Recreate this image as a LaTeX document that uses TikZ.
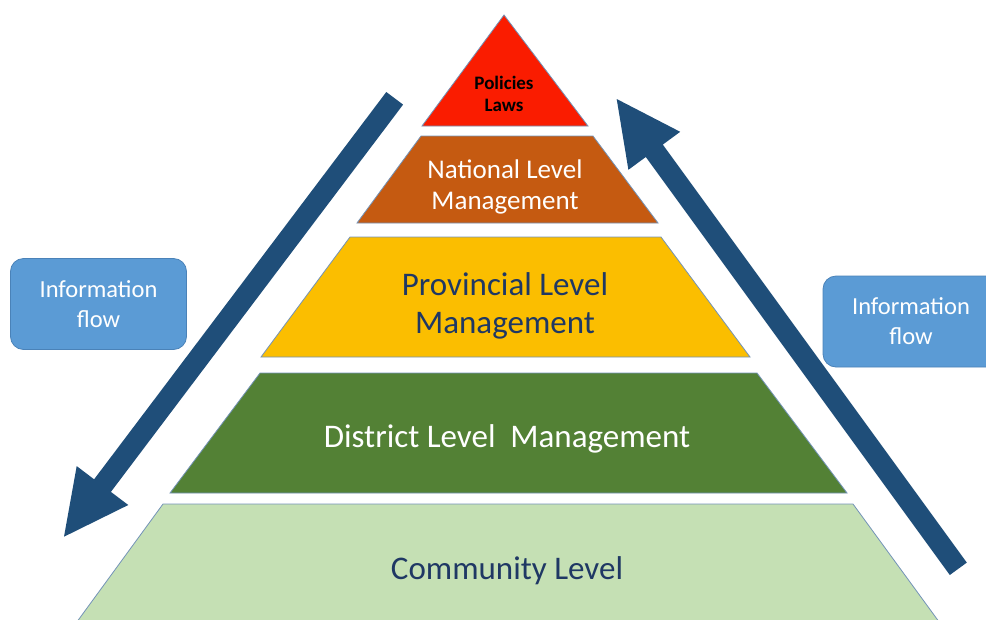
\documentclass[tikz,border=0pt]{standalone}
\usepackage{fontspec}
\setmainfont{Carlito}
\definecolor{edgeblue}{HTML}{7393B8}
\definecolor{topred}{HTML}{FA1C00}
\definecolor{natorange}{HTML}{C55A11}
\definecolor{provgold}{HTML}{FBBE00}
\definecolor{distgreen}{HTML}{538135}
\definecolor{commgreen}{HTML}{C5E0B4}
\definecolor{arrowblue}{HTML}{1F4E79}
\definecolor{boxblue}{HTML}{5B9BD5}
\definecolor{boxedge}{HTML}{4A82B8}
\definecolor{navytext}{HTML}{1F3864}
\begin{document}
\begin{tikzpicture}[x=1pt,y=-1pt,
  layer/.style={draw=edgeblue,line width=0.8pt},
  flowarrow/.style={fill=arrowblue},
  infobox/.style={rounded corners=13pt, fill=boxblue, draw=boxedge, line width=0.8pt,
    minimum width=176pt, minimum height=91pt, text=white, align=center,
    font=\fontsize{24.5}{30}\selectfont, inner sep=0pt},
  lbl/.style={align=center, inner sep=0pt}]
\useasboundingbox (0,0) rectangle (986,619);
\clip (0,0) rectangle (986,619);
% pyramid layers
\path[layer,fill=topred] (504,15) -- (588,126) -- (422,126) -- cycle;
\path[layer,fill=natorange] (421,136) -- (593,136) -- (658,223) -- (357,223) -- cycle;
\path[layer,fill=provgold] (350,237) -- (661,237) -- (750,357) -- (261,357) -- cycle;
\path[layer,fill=distgreen] (260,373) -- (757,373) -- (847,493) -- (170,493) -- cycle;
\path[layer,fill=commgreen] (163,504) -- (853,504) -- (945,630) -- (71,630) -- cycle;
% labels
\node[lbl,font=\bfseries\fontsize{19}{22.5}\selectfont] (pol) at (504,94) {Policies\\Laws};
\node[lbl,text=white,font=\fontsize{27}{31}\selectfont] (nat) at (505,187) {National Level\\Management};
\node[lbl,text=navytext,font=\fontsize{33}{38}\selectfont] (prov) at (505,306) {Provincial Level\\Management};
\node[lbl,text=white,font=\fontsize{33}{38}\selectfont] (dist) at (507,439) {District Level\ \ Management};
\node[lbl,text=navytext,font=\fontsize{33}{38}\selectfont] (comm) at (507,571) {Community Level};
% arrows
\path[flowarrow] (386.3,92.0) -- (403.1,104.6) -- (110.9,491.9) -- (128.3,505.0) -- (64,536.7) -- (76.7,466.1) -- (94.1,479.3) -- cycle;
\path[flowarrow] (966.8,562.6) -- (949.8,575.0) -- (645.8,157.0) -- (628.4,169.8) -- (616.7,99) -- (680.2,131.8) -- (662.8,144.6) -- cycle;
% info boxes
\node[infobox] (infoL) at (98.5,304) {Information\\flow};
\node[infobox] (infoR) at (911,321.5) {Information\\flow};
\end{tikzpicture}
\end{document}
